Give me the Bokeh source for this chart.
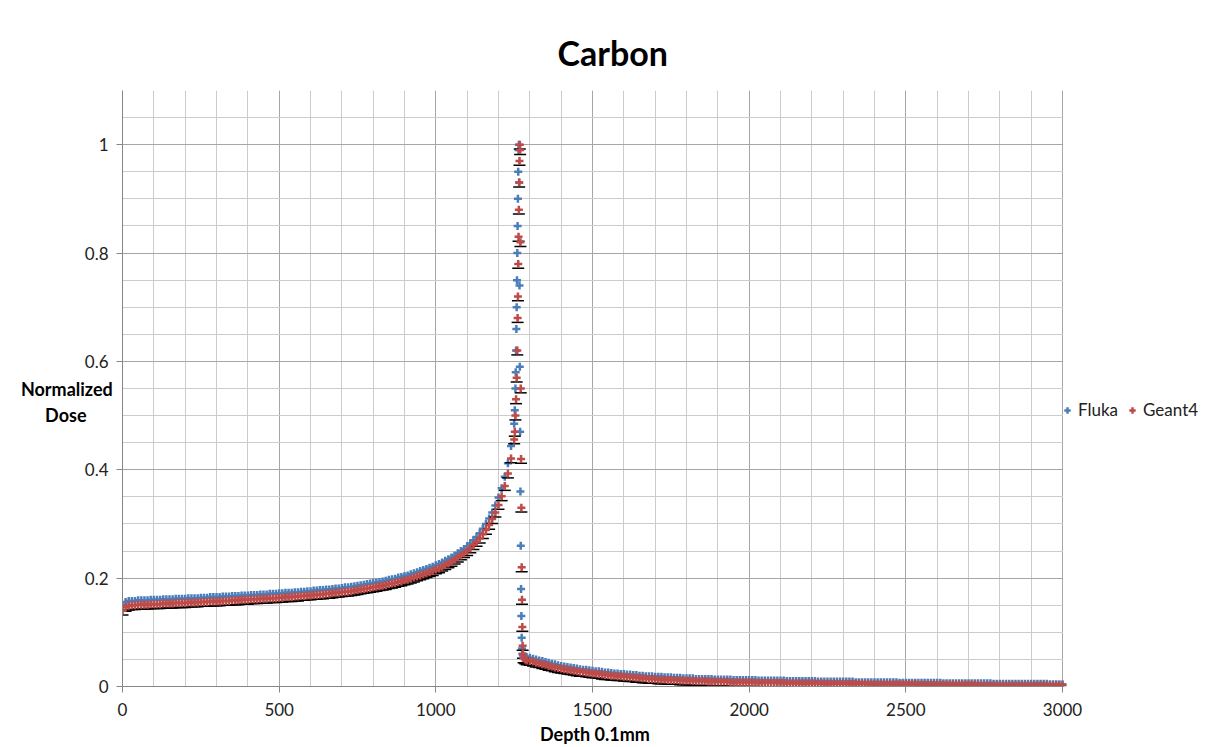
from bokeh.plotting import figure
from bokeh.models import (Range1d, FixedTicker, Legend, LegendItem,
                          CustomJSTickFormatter, BoxAnnotation)
from bokeh.embed import file_html
from bokeh.resources import INLINE

# ---------------- data ----------------
plateau_depth = list(range(0, 1251, 10))
fluka_plateau = [
    0.150, 0.156, 0.158, 0.158, 0.158, 0.159, 0.159, 0.159, 0.159, 0.160,
    0.160, 0.160, 0.160, 0.161, 0.161, 0.161, 0.161, 0.162, 0.162, 0.162,
    0.162, 0.163, 0.163, 0.163, 0.163, 0.164, 0.164, 0.164, 0.165, 0.165,
    0.165, 0.165, 0.166, 0.166, 0.166, 0.167, 0.167, 0.167, 0.168, 0.168,
    0.168, 0.169, 0.169, 0.169, 0.170, 0.170, 0.170, 0.171, 0.171, 0.171,
    0.172, 0.172, 0.173, 0.173, 0.173, 0.174, 0.174, 0.175, 0.175, 0.176,
    0.176, 0.177, 0.177, 0.178, 0.178, 0.179, 0.179, 0.180, 0.181, 0.181,
    0.182, 0.183, 0.183, 0.184, 0.185, 0.186, 0.187, 0.188, 0.189, 0.190,
    0.191, 0.192, 0.193, 0.194, 0.195, 0.197, 0.198, 0.199, 0.201, 0.202,
    0.204, 0.205, 0.207, 0.209, 0.211, 0.213, 0.215, 0.217, 0.219, 0.221,
    0.224, 0.226, 0.229, 0.232, 0.235, 0.238, 0.242, 0.246, 0.250, 0.254,
    0.259, 0.264, 0.270, 0.276, 0.283, 0.291, 0.300, 0.310, 0.321, 0.334,
    0.349, 0.366, 0.387, 0.412, 0.444, 0.485]
geant4_plateau = [
    0.140, 0.147, 0.149, 0.150, 0.150, 0.151, 0.151, 0.151, 0.151, 0.152,
    0.152, 0.152, 0.152, 0.153, 0.153, 0.153, 0.153, 0.154, 0.154, 0.154,
    0.154, 0.155, 0.155, 0.155, 0.155, 0.156, 0.156, 0.156, 0.157, 0.157,
    0.157, 0.157, 0.158, 0.158, 0.158, 0.159, 0.159, 0.159, 0.160, 0.160,
    0.160, 0.161, 0.161, 0.161, 0.162, 0.162, 0.162, 0.163, 0.163, 0.163,
    0.164, 0.164, 0.165, 0.165, 0.165, 0.166, 0.166, 0.167, 0.167, 0.168,
    0.168, 0.169, 0.169, 0.170, 0.170, 0.171, 0.171, 0.172, 0.173, 0.173,
    0.174, 0.175, 0.175, 0.176, 0.177, 0.178, 0.179, 0.180, 0.181, 0.182,
    0.183, 0.184, 0.185, 0.186, 0.187, 0.189, 0.190, 0.191, 0.193, 0.194,
    0.196, 0.197, 0.199, 0.201, 0.203, 0.205, 0.207, 0.209, 0.211, 0.213,
    0.216, 0.218, 0.221, 0.224, 0.227, 0.230, 0.234, 0.238, 0.242, 0.246,
    0.250, 0.255, 0.261, 0.267, 0.273, 0.281, 0.289, 0.298, 0.309, 0.321,
    0.335, 0.351, 0.370, 0.393, 0.421, 0.456]

fluka_peak_depth = [1252, 1254, 1255, 1256, 1257, 1258, 1259, 1260, 1261, 1262,
                    1263, 1264, 1265, 1266, 1267, 1268, 1269, 1270, 1271, 1272,
                    1273, 1274, 1275, 1276, 1278, 1282, 1286, 1290]
fluka_peak = [0.51, 0.55, 0.58, 0.62, 0.66, 0.70, 0.75, 0.80, 0.85, 0.90,
              0.95, 0.99, 1.00, 0.93, 0.74, 0.59, 0.47, 0.36, 0.26, 0.18,
              0.13, 0.09, 0.07, 0.06, 0.057, 0.056, 0.055, 0.054]

geant4_peak_depth = [1252, 1254, 1256, 1258, 1260, 1261, 1262, 1263, 1264, 1265,
                     1266, 1267, 1268, 1269, 1270, 1271, 1272, 1273, 1274, 1275,
                     1276, 1277, 1278, 1280, 1285, 1290]
geant4_peak = [0.47, 0.50, 0.53, 0.57, 0.62, 0.68, 0.72, 0.78, 0.83, 0.88,
               0.93, 0.97, 1.00, 0.99, 0.82, 0.55, 0.42, 0.33, 0.22, 0.16,
               0.11, 0.075, 0.06, 0.052, 0.050, 0.048]

tail_depth = list(range(1300, 3001, 10))
fluka_tail = [
    0.053, 0.051, 0.050, 0.048, 0.047, 0.045, 0.044, 0.042, 0.041, 0.039,
    0.038, 0.037, 0.036, 0.035, 0.034, 0.033, 0.032, 0.031, 0.031, 0.030,
    0.029, 0.028, 0.028, 0.027, 0.026, 0.026, 0.025, 0.024, 0.024, 0.023,
    0.023, 0.022, 0.022, 0.021, 0.021, 0.020, 0.020, 0.019, 0.019, 0.019,
    0.018, 0.018, 0.018, 0.017, 0.017, 0.017, 0.016, 0.016, 0.016, 0.015,
    0.015, 0.015, 0.015, 0.014, 0.014, 0.014, 0.014, 0.014, 0.014, 0.013,
    0.013, 0.013, 0.013, 0.013, 0.013, 0.012, 0.012, 0.012, 0.012, 0.012,
    0.012,
    0.012, 0.012, 0.011, 0.011, 0.011, 0.011, 0.011, 0.011, 0.011, 0.011,
    0.011, 0.010, 0.010, 0.010, 0.010, 0.010, 0.010, 0.010, 0.010, 0.010,
    0.010, 0.009, 0.009, 0.009, 0.009, 0.009, 0.009, 0.009, 0.009, 0.009,
    0.009, 0.009, 0.009, 0.008, 0.008, 0.008, 0.008, 0.008, 0.008, 0.008,
    0.008, 0.008, 0.008, 0.008, 0.008, 0.008, 0.008, 0.007, 0.007, 0.007,
    0.007, 0.007, 0.007, 0.007, 0.007, 0.007, 0.007, 0.007, 0.007, 0.007,
    0.007, 0.006, 0.006, 0.006, 0.006, 0.006, 0.006, 0.006, 0.006, 0.006,
    0.006, 0.006, 0.006, 0.006, 0.006, 0.006, 0.006, 0.005, 0.005, 0.005,
    0.005, 0.005, 0.005, 0.005, 0.005, 0.005, 0.005, 0.005, 0.005, 0.005,
    0.005, 0.005, 0.005, 0.005, 0.005, 0.004, 0.004, 0.004, 0.004, 0.004]
geant4_tail = [
    0.047, 0.046, 0.044, 0.043, 0.041, 0.040, 0.038, 0.037, 0.035, 0.034,
    0.033, 0.032, 0.031, 0.030, 0.029, 0.028, 0.027, 0.027, 0.026, 0.025,
    0.024, 0.024, 0.023, 0.022, 0.021, 0.021, 0.020, 0.020, 0.019, 0.019,
    0.018, 0.018, 0.017, 0.017, 0.016, 0.016, 0.015, 0.015, 0.014, 0.014,
    0.014, 0.013, 0.013, 0.013, 0.012, 0.012, 0.012, 0.012, 0.011, 0.011,
    0.011, 0.011, 0.010, 0.010, 0.010, 0.010, 0.010, 0.009, 0.009, 0.009,
    0.009, 0.009, 0.009, 0.009, 0.008, 0.008, 0.008, 0.008, 0.008, 0.008,
    0.008,
    0.008, 0.007, 0.007, 0.007, 0.007, 0.007, 0.007, 0.007, 0.007, 0.007,
    0.007, 0.006, 0.006, 0.006, 0.006, 0.006, 0.006, 0.006, 0.006, 0.006,
    0.006, 0.006, 0.006, 0.005, 0.005, 0.005, 0.005, 0.005, 0.005, 0.005,
    0.005, 0.005, 0.005, 0.005, 0.005, 0.005, 0.005, 0.004, 0.004, 0.004,
    0.004, 0.004, 0.004, 0.004, 0.004, 0.004, 0.004, 0.004, 0.004, 0.004,
    0.004, 0.004, 0.004, 0.003, 0.003, 0.003, 0.003, 0.003, 0.003, 0.003,
    0.003, 0.003, 0.003, 0.003, 0.003, 0.003, 0.003, 0.003, 0.003, 0.003,
    0.003, 0.003, 0.003, 0.002, 0.002, 0.002, 0.002, 0.002, 0.002, 0.002,
    0.002, 0.002, 0.002, 0.002, 0.002, 0.002, 0.002, 0.002, 0.002, 0.002,
    0.002, 0.002, 0.002, 0.002, 0.002, 0.002, 0.002, 0.002, 0.002, 0.002]
geant4_err = 0.008

x_ticks = [0, 500, 1000, 1500, 2000, 2500, 3000]
y_ticks = [0, 0.2, 0.4, 0.6, 0.8, 1]
X_MAX = 3000

fluka_x = plateau_depth + fluka_peak_depth + tail_depth
fluka_y = fluka_plateau + fluka_peak + fluka_tail
geant4_x = plateau_depth + geant4_peak_depth + tail_depth
geant4_y = geant4_plateau + geant4_peak + geant4_tail
geant4_lo = [v - geant4_err for v in geant4_y]

FONT = "Lato"
BLUE = "#4a7ebb"
RED = "#be4b48"
NB = "\u00a0"

# layout: axis area spans 940 px for 0..3000; the frame is widened to the
# right so that the legend (which sits right of the axis area) is not clipped
W, H = 1220, 747
LEFT, RIGHT_PAD = 122, 0
AXIS_PX = 940
frame_w = W - LEFT - RIGHT_PAD
x_end = X_MAX * frame_w / AXIS_PX

p = figure(width=W, height=H, output_backend="svg", toolbar_location=None,
           x_range=Range1d(0, x_end), y_range=Range1d(0, 1.1),
           min_border_left=LEFT, min_border_right=RIGHT_PAD, min_border_top=90,
           min_border_bottom=60, background_fill_color="white",
           border_fill_color="white")
p.outline_line_color = None

# title
p.title.text = "Carbon"
p.title.align = "left"
p.title.offset = 435
p.title.standoff = 35
p.title.text_font = FONT
p.title.text_font_size = "34px"
p.title.text_font_style = "bold"
p.title.text_color = "black"

# axes
p.xaxis.ticker = FixedTicker(ticks=x_ticks, minor_ticks=list(range(0, X_MAX + 1, 100)))
p.yaxis.ticker = FixedTicker(ticks=y_ticks, minor_ticks=[round(i * 0.05, 2) for i in range(23)])
p.yaxis.formatter = CustomJSTickFormatter(code="return String(tick)")
p.xaxis.bounds = (0, X_MAX)
for ax in (p.xaxis[0], p.yaxis[0]):
    ax.axis_line_color = "#868686"
    ax.major_tick_line_color = "#868686"
    ax.major_tick_in = 0
    ax.major_tick_out = 6
    ax.minor_tick_in = 0
    ax.minor_tick_out = 0
    ax.major_label_text_font = FONT
    ax.major_label_text_font_size = "17px"
    ax.major_label_text_color = "#222222"
    ax.axis_label_text_font = FONT
    ax.axis_label_text_font_size = "18px"
    ax.axis_label_text_font_style = "bold"
    ax.axis_label_text_color = "black"
p.xaxis.major_label_standoff = 10
p.yaxis.major_label_standoff = 8
# trailing no-break spaces shift the centred label left, over the axis area
p.xaxis.axis_label = "Depth 0.1mm" + NB * 35
p.xaxis.axis_label_standoff = 4
p.yaxis.axis_label = "\nNormalized\nDose" + NB * 6
p.yaxis.axis_label_orientation = "horizontal"
p.yaxis.axis_label_standoff = -31

# grids
for g in (p.xgrid[0], p.ygrid[0]):
    g.grid_line_color = "#a6a6a6"
    g.grid_line_width = 1
    g.minor_grid_line_color = "#cccccc"
    g.minor_grid_line_width = 1

# blank out the grid right of the axis area (legend zone)
p.add_layout(BoxAnnotation(left=X_MAX + 2, fill_color="white", fill_alpha=1,
                           line_alpha=0, level="underlay"))

# data
r_f = p.scatter(fluka_x, fluka_y, marker="cross", size=8, line_width=2.5,
                line_color=BLUE)
p.segment(geant4_x, geant4_y, geant4_x, geant4_lo, line_color="black", line_width=1.5)
p.scatter(geant4_x, geant4_lo, marker="dash", size=12, line_width=1.5,
          line_color="black")
r_g = p.scatter(geant4_x, geant4_y, marker="cross", size=8, line_width=2.5,
                line_color=RED)

legend = Legend(items=[LegendItem(label="Fluka", renderers=[r_f]),
                       LegendItem(label="Geant4", renderers=[r_g])],
                orientation="horizontal", location=(AXIS_PX - 3, 266),
                padding=0, margin=0, spacing=6, glyph_width=16,
                glyph_height=16, label_standoff=3,
                label_text_font=FONT, label_text_font_size="17px",
                label_text_color="#222222",
                border_line_color=None, background_fill_alpha=0)
p.add_layout(legend, "center")

open("out.html", "w").write(file_html(p, INLINE))
